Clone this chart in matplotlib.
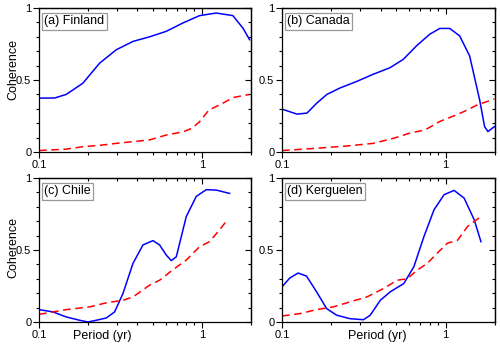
import matplotlib
matplotlib.use("Agg")
import matplotlib.pyplot as plt
from matplotlib.ticker import FixedLocator, NullFormatter, MultipleLocator

plt.rcParams['font.family'] = ['Liberation Sans', 'DejaVu Sans']

labels = ["(a) Finland", "(b) Canada", "(c) Chile", "(d) Kerguelen"]

fin_p = [0.1, 0.1248, 0.147, 0.186, 0.2355, 0.298, 0.3775, 0.4775, 0.604, 0.764, 0.967, 1.224, 1.549, 1.785, 1.96]
fin_c = [0.374, 0.375, 0.40, 0.478, 0.617, 0.71, 0.768, 0.80, 0.838, 0.896, 0.947, 0.965, 0.947, 0.86, 0.78]
fin_sp = [0.1, 0.147, 0.186, 0.2355, 0.298, 0.3775, 0.4775, 0.604, 0.764, 0.87, 0.967, 1.1, 1.35, 1.549, 1.96]
fin_s = [0.01, 0.02, 0.037, 0.046, 0.06, 0.072, 0.084, 0.118, 0.14, 0.165, 0.21, 0.29, 0.34, 0.378, 0.40]

can_p = [0.1, 0.1234, 0.142, 0.1633, 0.188, 0.2265, 0.286, 0.361, 0.456, 0.55, 0.663, 0.799, 0.92, 1.058, 1.217, 1.40, 1.61, 1.727, 1.81, 1.987]
can_c = [0.298, 0.263, 0.27, 0.34, 0.40, 0.445, 0.49, 0.54, 0.585, 0.643, 0.737, 0.818, 0.858, 0.858, 0.806, 0.667, 0.364, 0.177, 0.142, 0.177]
can_sp = [0.1, 0.1633, 0.25, 0.361, 0.48, 0.6, 0.75, 0.92, 1.1, 1.3, 1.57, 1.987]
can_s = [0.01, 0.026, 0.042, 0.06, 0.095, 0.13, 0.154, 0.212, 0.247, 0.282, 0.329, 0.368]

chi_p = [0.1, 0.1219, 0.147, 0.1776, 0.1998, 0.2247, 0.2588, 0.291, 0.3276, 0.3773, 0.4345, 0.5005, 0.5496, 0.604, 0.6485, 0.696, 0.8016, 0.923, 1.063, 1.224, 1.478]
chi_c = [0.086, 0.07, 0.035, 0.012, 0.0, 0.012, 0.028, 0.07, 0.198, 0.407, 0.535, 0.565, 0.535, 0.465, 0.426, 0.453, 0.733, 0.872, 0.919, 0.916, 0.893]
chi_sp = [0.1, 0.147, 0.2045, 0.2588, 0.3276, 0.3773, 0.4775, 0.5496, 0.6637, 0.8016, 0.967, 1.114, 1.283, 1.444]
chi_s = [0.053, 0.086, 0.105, 0.133, 0.151, 0.174, 0.256, 0.29, 0.363, 0.43, 0.523, 0.558, 0.64, 0.714]

ker_p = [0.1, 0.1115, 0.1254, 0.1411, 0.1626, 0.1873, 0.2158, 0.2606, 0.3147, 0.3458, 0.3986, 0.459, 0.5543, 0.639, 0.736, 0.848, 0.977, 1.125, 1.296, 1.494, 1.641]
ker_c = [0.244, 0.305, 0.34, 0.319, 0.21, 0.093, 0.047, 0.023, 0.016, 0.047, 0.151, 0.21, 0.267, 0.384, 0.593, 0.779, 0.884, 0.914, 0.86, 0.709, 0.558]
ker_sp = [0.1, 0.1284, 0.1626, 0.2058, 0.2606, 0.33, 0.4178, 0.5044, 0.5812, 0.6697, 0.7716, 0.889, 1.024, 1.18, 1.359, 1.641]
ker_s = [0.042, 0.058, 0.086, 0.105, 0.14, 0.174, 0.233, 0.29, 0.30, 0.36, 0.407, 0.479, 0.547, 0.567, 0.663, 0.733]

series = [(fin_p, fin_c, fin_sp, fin_s), (can_p, can_c, can_sp, can_s),
          (chi_p, chi_c, chi_sp, chi_s), (ker_p, ker_c, ker_sp, ker_s)]

x_major = [0.1, 1]
x_minor = [0.2, 0.3, 0.4, 0.5, 0.6, 0.7, 0.8, 0.9, 2]
y_major = [0, 0.5, 1]

W, H = 500, 348
fig = plt.figure(figsize=(W / 100, H / 100), dpi=100)
boxes = [(39, 8, 251, 152), (282, 8, 495, 152), (39, 178, 251, 322), (282, 178, 495, 322)]
ylab_y = {0: 0.576, 2: 0.52}
xlab_x = {2: 102, 3: 377}

for i, ((l, t, r, b), lab, (p, c, sp, s)) in enumerate(zip(boxes, labels, series)):
    ax = fig.add_axes([l / W, 1 - b / H, (r - l) / W, (b - t) / H])
    ax.plot(p, c, color='#0000ff', lw=1.1)
    ax.plot(sp, s, color='#ff0000', lw=1.1, ls=(0, (5, 3)))
    ax.set_xscale('log')
    ax.set_xlim(0.1, 2)
    ax.set_ylim(0, 1)
    ax.xaxis.set_major_locator(FixedLocator(x_major))
    ax.xaxis.set_minor_locator(FixedLocator(x_minor))
    ax.xaxis.set_minor_formatter(NullFormatter())
    ax.set_xticklabels(['0.1', '1'])
    ax.yaxis.set_major_locator(FixedLocator(y_major))
    ax.yaxis.set_minor_locator(MultipleLocator(0.1))
    ax.set_yticklabels(['0', '0.5', '1'])
    ax.tick_params(which='both', direction='out', labelsize=8, width=0.8)
    ax.tick_params(which='major', length=4, pad=1.5)
    ax.tick_params(which='minor', length=2.2)
    ax.tick_params(axis='x', which='major', pad=2)

    secx = ax.secondary_xaxis('top')
    secx.xaxis.set_major_locator(FixedLocator(x_major))
    secx.xaxis.set_minor_locator(FixedLocator(x_minor))
    secx.tick_params(which='both', direction='in', labeltop=False, width=0.8)
    secx.tick_params(which='major', length=4)
    secx.tick_params(which='minor', length=2.2)
    secy = ax.secondary_yaxis('right')
    secy.yaxis.set_major_locator(FixedLocator(y_major))
    secy.yaxis.set_minor_locator(MultipleLocator(0.1))
    secy.tick_params(which='both', direction='in', labelright=False, width=0.8)
    secy.tick_params(which='major', length=4)
    secy.tick_params(which='minor', length=2.2)
    for a in (ax, secx, secy):
        for sp_ in a.spines.values():
            sp_.set_linewidth(0.9)

    ax.text(0.024, 0.951, lab, transform=ax.transAxes, fontsize=9, va='top', ha='left',
            bbox=dict(boxstyle='square,pad=0.2', fc='white', ec='#999999', lw=0.9))
    if i % 2 == 0:
        ax.set_ylabel('Coherence', fontsize=9)
        ax.yaxis.set_label_coords((19.5 - l) / (r - l), ylab_y[i])
    if i >= 2:
        fig.text(xlab_x[i] / W, 1 - 336 / H, 'Period (yr)', fontsize=9, ha='center', va='center')

fig.savefig('out.png', dpi=100)
